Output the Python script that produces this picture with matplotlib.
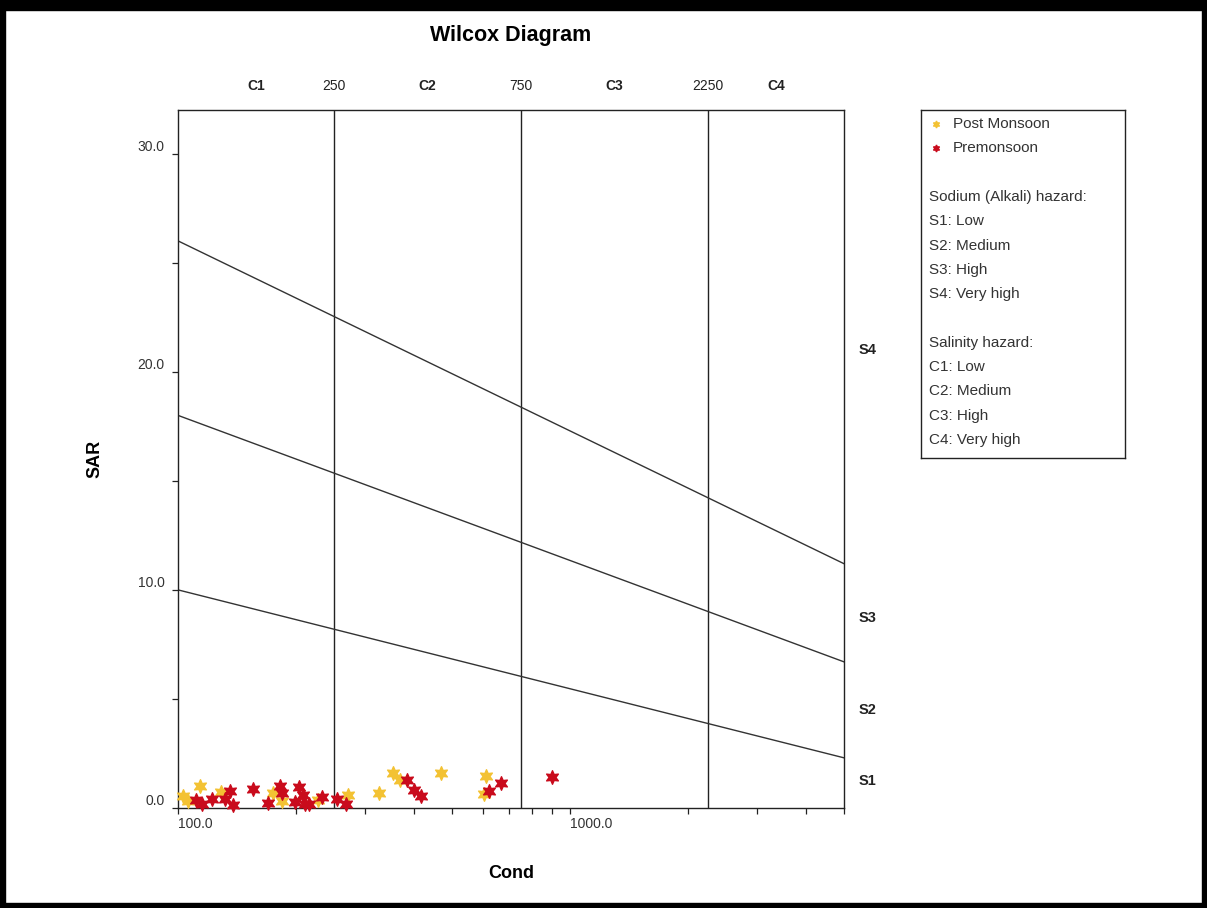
import matplotlib
matplotlib.use("Agg")
from matplotlib import pyplot as plt
from matplotlib import transforms
from matplotlib.patches import Rectangle
from matplotlib.ticker import FixedLocator, FuncFormatter, NullFormatter

plt.rcParams['font.family'] = ['Liberation Sans', 'DejaVu Sans']

# sample data: conductivity (x) and SAR (y)
post_cond = [103, 106, 114, 129, 175, 184, 228, 272, 325, 354, 368, 468, 610, 603]
post_sar = [0.55, 0.3, 1.0, 0.75, 0.7, 0.3, 0.37, 0.6, 0.7, 1.6, 1.3, 1.6, 1.45, 0.65]

pre_cond = [111, 115, 122, 132, 136, 138, 155, 170, 182, 184, 203, 199, 209, 211,
            216, 233, 254, 268, 383, 400, 416, 621, 667, 901]
pre_sar = [0.35, 0.2, 0.42, 0.4, 0.77, 0.14, 0.88, 0.25, 1.0, 0.67, 0.95, 0.26, 0.6, 0.2,
           0.2, 0.52, 0.4, 0.2, 1.28, 0.83, 0.55, 0.8, 1.16, 1.4]

# salinity class boundaries and labels
c_bounds = [250, 750, 2250]
c_names = ["C1", "C2", "C3", "C4"]
c_centers = [158, 433, 1299, 3354]

# sodium hazard boundary lines (cond endpoints, sar endpoints)
line_cond = [100, 5000]
s_lines = [[10.0, 2.3], [18.0, 6.7], [26.0, 11.2]]
s_names = ["S1", "S2", "S3", "S4"]
s_pos = [1.25, 4.5, 8.7, 21.0]

yellow = "#F3C233"
red = "#C90B1C"

fig = plt.figure(figsize=(12.07, 9.08), dpi=100)
W, H = 1207, 908

# black frame round the picture
for x0, y0, w, h in [(0, 0, W, 5), (0, H - 10, W, 10), (0, 0, 5, H), (W - 5, 0, 5, H)]:
    fig.patches.append(Rectangle((x0 / W, y0 / H), w / W, h / H, transform=fig.transFigure,
                                 color="black", zorder=10))

ax = fig.add_axes([178 / W, 1 - 808 / H, (844 - 178) / W, (808 - 110) / H])
ax.set_xscale("log")
ax.set_xlim(100, 5000)
ax.set_ylim(0, 32)

for c in c_bounds:
    ax.axvline(c, color="#222222", lw=1.0)
for s in s_lines:
    ax.plot(line_cond, s, color="#333333", lw=1.0)

ax.scatter(post_cond, post_sar, marker=(6, 1, 0), s=95, color=yellow, zorder=3, clip_on=False)
ax.scatter(pre_cond, pre_sar, marker=(6, 1, 0), s=95, color=red, zorder=4, clip_on=False)

# ticks
ax.xaxis.set_major_locator(FixedLocator([100, 1000]))
ax.xaxis.set_minor_locator(FixedLocator([200, 300, 400, 500, 600, 700, 800, 900,
                                         2000, 3000, 4000, 5000]))
ax.xaxis.set_major_formatter(FuncFormatter(lambda v, p: f"{v:.1f}"))
ax.xaxis.set_minor_formatter(NullFormatter())
ax.yaxis.set_major_locator(FixedLocator([0, 10, 20, 30]))
ax.yaxis.set_minor_locator(FixedLocator([5, 15, 25]))
ax.yaxis.set_major_formatter(FuncFormatter(lambda v, p: f"{v:.1f}"))
ax.tick_params(which="both", direction="out", length=4.5, width=0.9, color="#222222")
ax.tick_params(axis="x", labelsize=10, pad=2, labelcolor="#333333")
ax.tick_params(axis="y", labelsize=10, pad=5, labelcolor="#333333")
for t in ax.get_xticklabels():
    t.set_ha("left")
for t in ax.get_yticklabels():
    t.set_va("bottom")
for sp in ax.spines.values():
    sp.set_linewidth(1.0)
    sp.set_color("#222222")

# class labels above the plot
tr_top = transforms.blended_transform_factory(ax.transData, ax.transAxes)
for c in c_bounds:
    ax.text(c, 1.034, str(c), transform=tr_top, ha="center", va="center", fontsize=10,
            color="#222222")
for name, c in zip(c_names, c_centers):
    ax.text(c, 1.034, name, transform=tr_top, ha="center", va="center", fontsize=10,
            fontweight="bold", color="#222222")

tr_right = transforms.blended_transform_factory(ax.transAxes, ax.transData)
for name, s in zip(s_names, s_pos):
    ax.text(1.0225, s, name, transform=tr_right, ha="left", va="center", fontsize=10.5,
            fontweight="bold", color="#222222")

fig.text(511 / W, 1 - 35 / H, "Wilcox Diagram", ha="center", va="center", fontsize=15.5,
         fontweight="bold")
fig.text(511 / W, 1 - 873 / H, "Cond", ha="center", va="center", fontsize=13, fontweight="bold")
fig.text(95 / W, 1 - 459 / H, "SAR", ha="center", va="center", rotation=90, fontsize=13,
         fontweight="bold")

# legend box drawn in its own pixel-unit axes
lx0, ly0, lx1, ly1 = 921, 110, 1125, 458
lg = fig.add_axes([lx0 / W, 1 - ly1 / H, (lx1 - lx0) / W, (ly1 - ly0) / H])
lg.set_xlim(0, lx1 - lx0)
lg.set_ylim(ly1 - ly0, 0)
lg.set_xticks([])
lg.set_yticks([])
for sp in lg.spines.values():
    sp.set_linewidth(1.0)
    sp.set_color("#222222")

lg.plot([15], [14], marker=(6, 1, 0), ms=5, color=yellow, ls="none")
lg.plot([15], [38], marker=(6, 1, 0), ms=5, color=red, ls="none")
lg.text(32, 14, "Post Monsoon", va="center", fontsize=11, color="#333333")
lg.text(32, 38, "Premonsoon", va="center", fontsize=11, color="#333333")

legend_rows = ["Sodium (Alkali) hazard:", "S1: Low", "S2: Medium", "S3: High", "S4: Very high",
               "", "Salinity hazard:", "C1: Low", "C2: Medium", "C3: High", "C4: Very high"]
for i, row in enumerate(legend_rows):
    lg.text(8, 87 + i * 24.3, row, va="center", fontsize=11, color="#333333")

fig.savefig("out.png", dpi=100)
